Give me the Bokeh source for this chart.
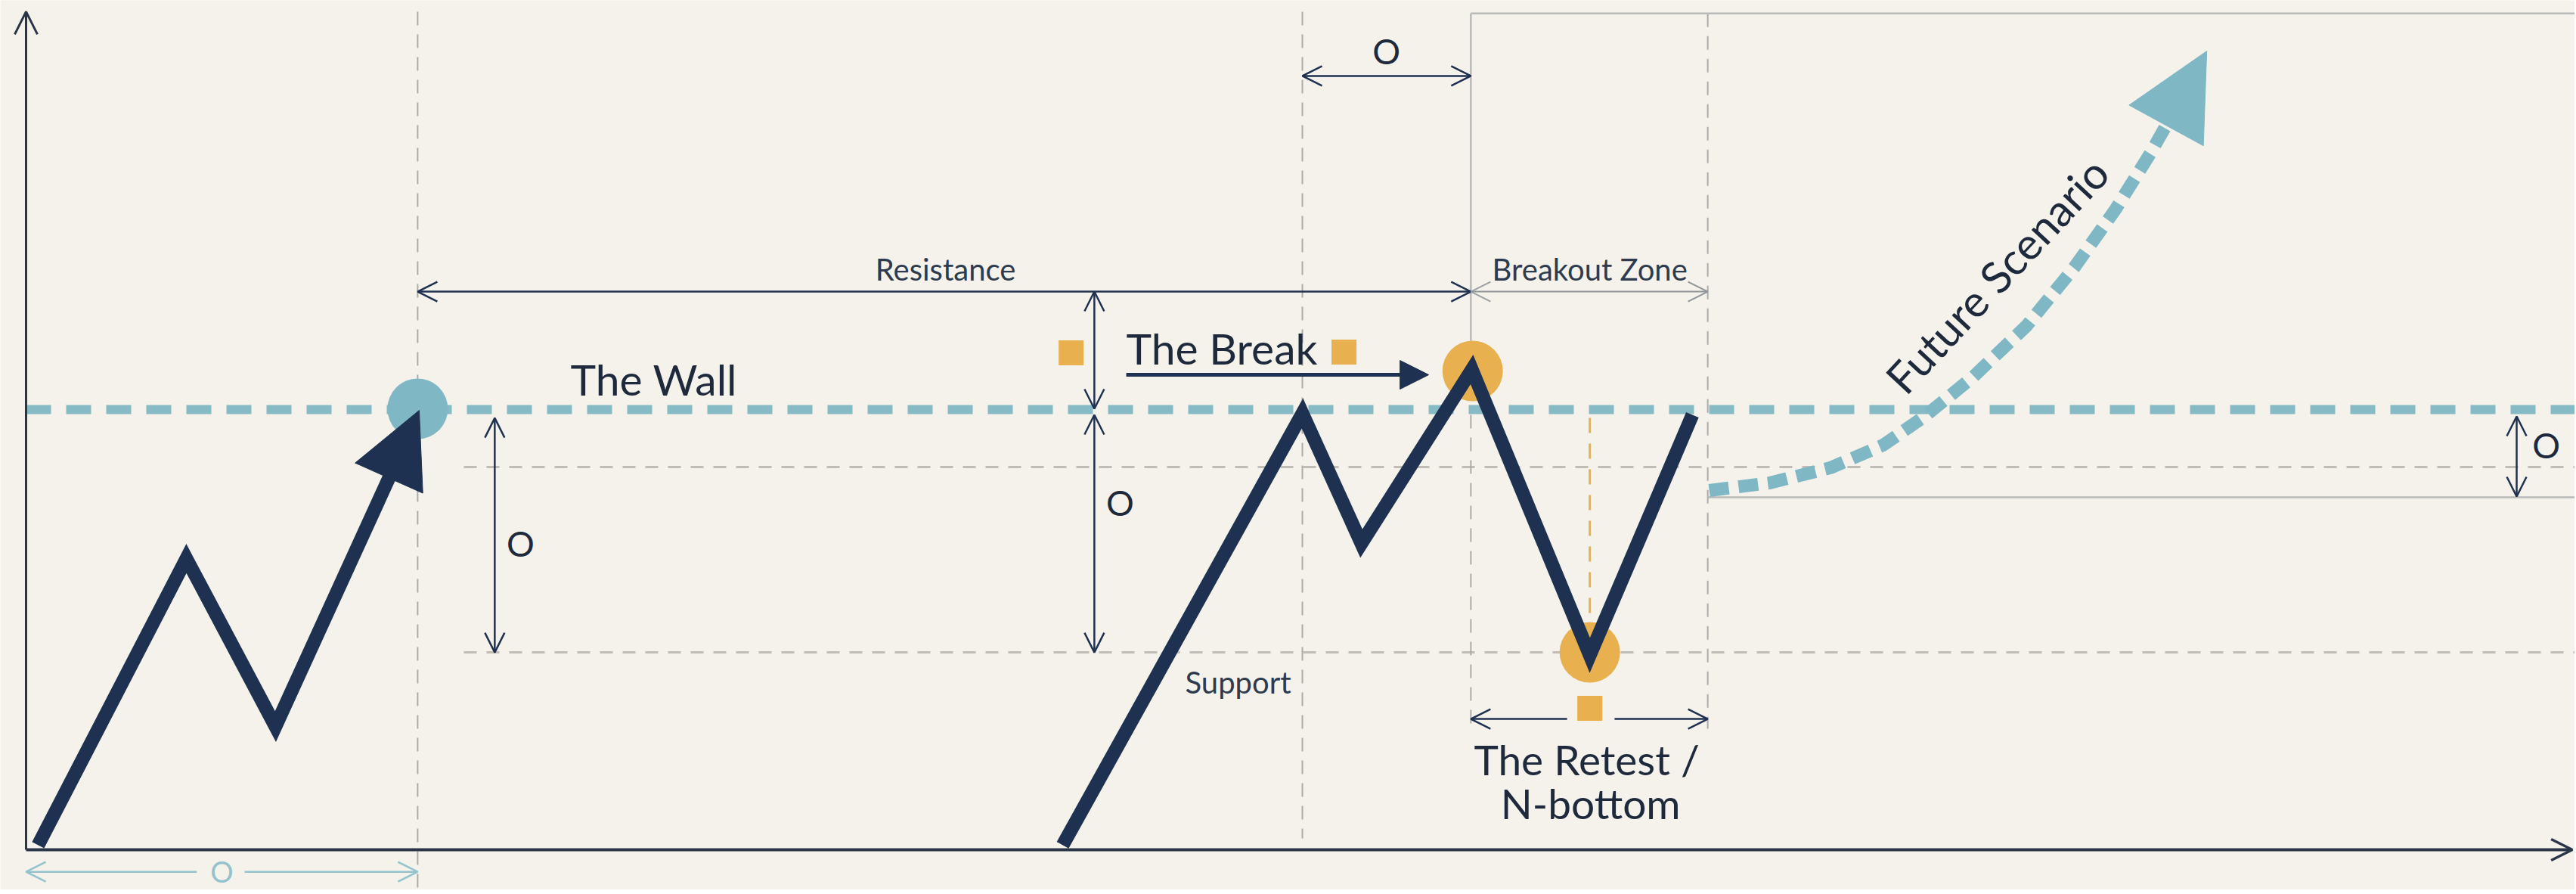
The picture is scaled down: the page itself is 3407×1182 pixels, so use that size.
from bokeh.plotting import figure
from bokeh.models import Range1d, Arrow, OpenHead, NormalHead
from bokeh.core.properties import value
from bokeh.embed import file_html
from bokeh.resources import INLINE

# ---------------- data (time units on x, price units on y) ----------------
axis_top = 95.2
axis_right = 99.75

resistance = 50.0
upper_band = 43.47
support = 22.42
box_top = 95.0
box_bottom = 40.03
band_start = 17.15
frame_right = 99.85

wall_t = 15.34
peak1_t = 50.0
zone_start = 56.6
retest_t = 61.26
zone_end = 65.88

# left price swing (ends in an arrow)
path1_t = [0.47, 6.28, 9.77, 14.25]
path1_p = [0.52, 33.08, 14.0, 42.44]
path1_tip = [15.40, 49.91]

# main price path: rally, double peak, retest, bounce
path2_t = [40.61, 50.0, 52.31, 56.64, 61.26, 65.28]
path2_p = [0.52, 49.57, 34.79, 54.55, 22.08, 49.4]

# future scenario curve
future_t = [65.94, 68.31, 70.68, 72.75, 74.38, 76.30, 78.38, 80.24, 81.84, 83.26, 83.83]
future_p = [40.81, 41.67, 43.38, 45.96, 49.23, 53.78, 59.54, 66.15, 72.68, 79.30, 82.22]
future_tip = [85.43, 90.72]

# markers
wall_pt = [15.34, 50.09]
orange_pts_t = [56.67, 61.26]
orange_pts_p = [54.38, 22.42]
square_t = [40.94, 51.63, 61.26]
square_p = [56.44, 56.53, 16.07]

# "The Break" arrow
break_arrow_t = [43.1, 54.95]
break_arrow_p = 53.95

# dimension arrows (navy): x0, y0, x1, y1
dim_x0 = [15.34, 50.0, 18.36, 41.85, 41.85, 97.57]
dim_y0 = [63.4, 87.89, 49.05, 63.4, 49.4, 49.23]
dim_x1 = [56.6, 56.6, 18.36, 41.85, 41.85, 97.57]
dim_y1 = [63.4, 87.89, 22.42, 50.09, 22.42, 40.12]

zone_dim = [56.6, 65.88, 63.4]
bottom_dim = [0.0, 6.69, 8.56, 15.34, -2.5]
retest_dim = [56.6, 60.37, 62.23, 65.88, 14.86]

o_labels_t = [53.29, 19.37, 42.86, 98.73]
o_labels_p = [90.72, 34.79, 39.43, 45.96]
o_bottom = [7.67, -2.45]

# texts (centres)
big_labels = ["The Wall", "The Break"]
big_t = [21.33, 43.1]
big_p = [53.44, 57.0]
retest_lines = ["The Retest /", "N-bottom"]
retest_t_lab = [61.14, 61.29]
retest_p_lab = [10.3, 5.25]
small_labels = ["Resistance", "Breakout Zone"]
small_t = [36.02, 61.26]
small_p = [65.95, 65.9]
support_lab = [45.41, 19.05]
future_lab = [77.2, 65.3, 47]

# ---------------- style ----------------
BG = "#F4F2EB"
NAVY = "#1F3150"
AXIS = "#2A3547"
TEXT = "#1E2A3C"
TEAL = "#7FB7C4"
TEAL_L = "#93C3CD"
ORANGE = "#E8B04E"
GRAY_D = "#C0BDB6"
GRAY_V = "#ABABAB"
GRAY_BOX = "#B9B9B9"
FONT = value("Lato")

p = figure(width=3405, height=1176, output_backend="svg", toolbar_location=None,
           x_range=Range1d(-1.007, 99.85), y_range=Range1d(-4.55, 96.48),
           x_axis_location=None, y_axis_location=None, min_border=0)
p.xgrid.visible = False
p.ygrid.visible = False
p.outline_line_color = None
p.background_fill_color = BG
p.border_fill_color = BG

# horizontal gray dashed bands
p.segment(x0=[band_start, band_start], y0=[upper_band, support],
          x1=[frame_right, frame_right], y1=[upper_band, support],
          line_color=GRAY_D, line_width=3, line_dash="17 13")

# vertical dashed guides
p.segment(x0=[wall_t, peak1_t, zone_end, zone_start],
          y0=[95.19, 95.19, 95.0, 49.4],
          x1=[wall_t, peak1_t, zone_end, zone_start],
          y1=[-5.0, 1.29, 13.75, 13.75],
          line_color=GRAY_V, line_width=2, line_dash="18 12")

# breakout box (solid thin)
p.segment(x0=[zone_start, zone_start, zone_end], y0=[box_top, box_top, box_bottom],
          x1=[frame_right, zone_start, frame_right], y1=[box_top, 57.8, box_bottom],
          line_color=GRAY_BOX, line_width=2.5)

# orange retest guide
p.segment(x0=[retest_t], y0=[49.05], x1=[retest_t], y1=[25.17],
          line_color=ORANGE, line_width=3, line_dash="20 14")

# resistance line
p.segment(x0=[0], y0=[resistance], x1=[frame_right], y1=[resistance],
          line_color=TEAL, line_width=12, line_dash="33 20", line_alpha=0.95)

# markers
p.scatter([wall_pt[0]], [wall_pt[1]], size=80, marker="circle",
          fill_color=TEAL, line_color=None)
p.scatter(orange_pts_t, orange_pts_p, size=80, marker="circle",
          fill_color=ORANGE, line_color=None)
p.scatter(square_t, square_p, size=33, marker="square",
          fill_color=ORANGE, line_color=None)

# price paths
p.line(path1_t, path1_p, line_color=NAVY, line_width=18, line_join="miter", line_cap="butt")
p.add_layout(Arrow(end=NormalHead(size=98, fill_color=NAVY, line_color=NAVY, line_width=1),
                   x_start=path1_t[-1], y_start=path1_p[-1],
                   x_end=path1_tip[0], y_end=path1_tip[1], line_alpha=0))
p.line(path2_t, path2_p, line_color=NAVY, line_width=18, line_join="miter", line_cap="butt")

# future scenario
p.line(future_t, future_p, line_color=TEAL, line_width=17, line_dash="26 13", line_cap="butt")
p.add_layout(Arrow(end=NormalHead(size=112, fill_color=TEAL, line_color=TEAL, line_width=1),
                   x_start=future_t[-1], y_start=future_p[-1],
                   x_end=future_tip[0], y_end=future_tip[1], line_alpha=0))

# the break arrow
p.add_layout(Arrow(end=NormalHead(size=38, fill_color=NAVY, line_color=NAVY, line_width=1),
                   x_start=break_arrow_t[0], y_start=break_arrow_p,
                   x_end=break_arrow_t[1], y_end=break_arrow_p,
                   line_color=NAVY, line_width=5))

# axes
p.add_layout(Arrow(end=OpenHead(size=30, line_color=AXIS, line_width=3),
                   x_start=0, y_start=0, x_end=0, y_end=axis_top,
                   line_color=AXIS, line_width=3))
p.add_layout(Arrow(end=OpenHead(size=28, line_color=AXIS, line_width=3.5),
                   x_start=0, y_start=0, x_end=axis_right, y_end=0,
                   line_color=AXIS, line_width=4))

# dimension arrows
for x0, y0, x1, y1 in zip(dim_x0, dim_y0, dim_x1, dim_y1):
    p.add_layout(Arrow(start=OpenHead(size=26, line_color=NAVY, line_width=2.5),
                       end=OpenHead(size=26, line_color=NAVY, line_width=2.5),
                       x_start=x0, y_start=y0, x_end=x1, y_end=y1,
                       line_color=NAVY, line_width=2.5))
p.add_layout(Arrow(start=OpenHead(size=26, line_color="#9AA0A4", line_width=2),
                   end=OpenHead(size=26, line_color="#8F9498", line_width=2),
                   x_start=zone_dim[0], y_start=zone_dim[2], x_end=zone_dim[1], y_end=zone_dim[2],
                   line_color="#8F9498", line_width=2))
p.add_layout(Arrow(start=OpenHead(size=26, line_color=TEAL_L, line_width=2.5), end=None,
                   x_start=bottom_dim[0], y_start=bottom_dim[4], x_end=bottom_dim[1], y_end=bottom_dim[4],
                   line_color=TEAL_L, line_width=2.5))
p.add_layout(Arrow(start=None, end=OpenHead(size=26, line_color=TEAL_L, line_width=2.5),
                   x_start=bottom_dim[2], y_start=bottom_dim[4], x_end=bottom_dim[3], y_end=bottom_dim[4],
                   line_color=TEAL_L, line_width=2.5))
p.add_layout(Arrow(start=OpenHead(size=26, line_color=NAVY, line_width=2.5), end=None,
                   x_start=retest_dim[0], y_start=retest_dim[4], x_end=retest_dim[1], y_end=retest_dim[4],
                   line_color=NAVY, line_width=2.5))
p.add_layout(Arrow(start=None, end=OpenHead(size=26, line_color=NAVY, line_width=2.5),
                   x_start=retest_dim[2], y_start=retest_dim[4], x_end=retest_dim[3], y_end=retest_dim[4],
                   line_color=NAVY, line_width=2.5))

# texts
p.text(o_labels_t, o_labels_p, text=["O"] * len(o_labels_t), text_font=FONT,
       text_font_size="46px", text_color=TEXT, text_align="center", text_baseline="middle")
p.text([o_bottom[0]], [o_bottom[1]], text=["O"], text_font=FONT,
       text_font_size="38px", text_color=TEAL_L, text_align="center", text_baseline="middle")
p.text(big_t, big_p, text=big_labels, text_font=FONT, text_font_size="57px",
       text_color=TEXT, text_align="left", text_baseline="middle")
p.text(retest_t_lab, retest_p_lab, text=retest_lines, text_font=FONT, text_font_size="55px",
       text_color=TEXT, text_align="center", text_baseline="middle")
p.text(small_t, small_p, text=small_labels, text_font=FONT, text_font_size="40px",
       text_color="#2E3B4E", text_align="center", text_baseline="middle")
p.text([support_lab[0]], [support_lab[1]], text=["Support"], text_font=FONT, text_font_size="40px",
       text_color="#2E3B4E", text_align="left", text_baseline="middle")
p.text([future_lab[0]], [future_lab[1]], text=["Future Scenario"], text_font=FONT,
       text_font_size="58px", text_color=TEXT, text_align="center", text_baseline="middle",
       angle=future_lab[2], angle_units="deg")

open("out.html", "w").write(file_html(p, INLINE))
